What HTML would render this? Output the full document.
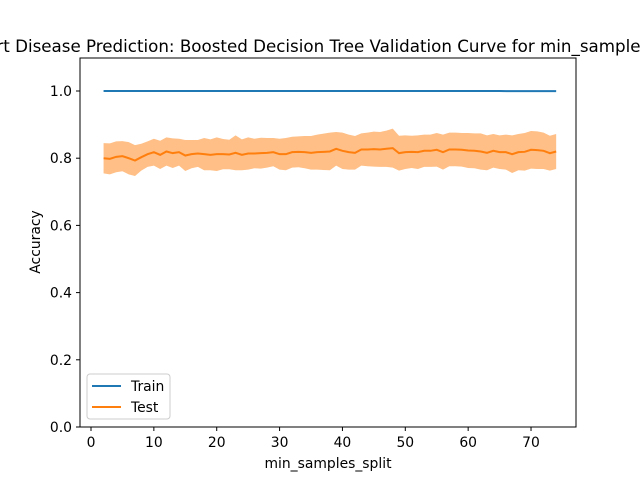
<!DOCTYPE html>
<html><head><meta charset="utf-8"><style>
body{margin:0;background:#fff;}
svg{display:block;font-family:"DejaVu Sans","Liberation Sans",sans-serif;}
</style></head><body>
<svg id="chart" width="640" height="480">
<text x="328" y="52" font-size="16.7" text-anchor="middle">Heart Disease Prediction: Boosted Decision Tree Validation Curve for min_samples_split</text>
<g id="plot"></g>
<rect x="80" y="58" width="496" height="369" fill="none" stroke="#000" stroke-width="1"/>
<text x="328" y="468" font-size="13.9" text-anchor="middle">min_samples_split</text>
<text x="0" y="0" font-size="13.9" text-anchor="middle" transform="translate(40,242) rotate(-90)">Accuracy</text>
<g>
<rect x="87" y="374" width="83" height="45" rx="3" fill="#fff" fill-opacity="0.8" stroke="#ccc"/>
<line x1="92" y1="386" x2="121" y2="386" stroke="#1f77b4" stroke-width="2"/>
<text x="131" y="391" font-size="13.9">Train</text>
<line x1="92" y1="407" x2="121" y2="407" stroke="#ff7f0e" stroke-width="2"/>
<text x="131" y="412" font-size="13.9">Test</text>
</g>
</svg>
<script>
const xVals=[];for(let i=2;i<=74;i++)xVals.push(i);
const testMean=[0.800,0.798,0.804,0.806,0.800,0.793,0.803,0.812,0.818,0.810,0.820,0.815,0.818,0.808,0.812,0.814,0.812,0.810,0.812,0.812,0.811,0.816,0.810,0.814,0.814,0.815,0.816,0.818,0.812,0.812,0.818,0.819,0.818,0.816,0.818,0.819,0.820,0.828,0.822,0.818,0.816,0.826,0.826,0.827,0.826,0.828,0.830,0.815,0.818,0.819,0.818,0.822,0.822,0.825,0.818,0.826,0.826,0.825,0.823,0.822,0.820,0.816,0.822,0.818,0.818,0.812,0.818,0.819,0.825,0.824,0.822,0.815,0.820];
const testStd=[0.045,0.046,0.046,0.045,0.048,0.046,0.040,0.038,0.040,0.042,0.042,0.044,0.040,0.046,0.042,0.040,0.048,0.046,0.050,0.045,0.044,0.052,0.046,0.048,0.044,0.046,0.044,0.042,0.046,0.048,0.046,0.046,0.048,0.050,0.052,0.054,0.056,0.050,0.054,0.052,0.050,0.048,0.050,0.052,0.052,0.054,0.058,0.052,0.050,0.048,0.050,0.048,0.048,0.050,0.052,0.050,0.050,0.050,0.052,0.052,0.054,0.052,0.050,0.050,0.052,0.056,0.054,0.056,0.056,0.056,0.054,0.052,0.052];
const trainMean=xVals.map(x=>x<66?1.0:0.9995);
const xTicks=[0,10,20,30,40,50,60,70];
const yTicks=[0.0,0.2,0.4,0.6,0.8,1.0];
const X=v=>91+(v)*6.286, Y=v=>427-v*336;
const NS='http://www.w3.org/2000/svg';
const svg=document.getElementById('chart'), g=document.getElementById('plot');
function mk(t,a,p){const e=document.createElementNS(NS,t);for(const k in a)e.setAttribute(k,a[k]);(p||g).appendChild(e);return e;}
let up=xVals.map((x,i)=>X(x)+','+Y(testMean[i]+testStd[i]));
let lo=xVals.map((x,i)=>X(x)+','+Y(testMean[i]-testStd[i])).reverse();
const band=mk('polygon',{points:up.concat(lo).join(' '),fill:'#ff7f0e','fill-opacity':0.5});


const tr=mk('polyline',{points:xVals.map((x,i)=>X(x)+','+Y(trainMean[i])).join(' '),fill:'none',stroke:'#1f77b4','stroke-width':2});


const te=mk('polyline',{points:xVals.map((x,i)=>X(x)+','+Y(testMean[i])).join(' '),fill:'none',stroke:'#ff7f0e','stroke-width':2});


xTicks.forEach(t=>{
 const l=mk('line',{x1:X(t),x2:X(t),y1:427,y2:431,stroke:'#000'},svg);
 
 
 const tx=mk('text',{x:X(t),y:447,'font-size':13.9,'text-anchor':'middle'},svg);tx.textContent=t;
 
 
});
yTicks.forEach(t=>{
 const l=mk('line',{x1:76,x2:80,y1:Y(t),y2:Y(t),stroke:'#000'},svg);
 
 
 const tx=mk('text',{x:72,y:Y(t)+5,'font-size':13.9,'text-anchor':'end'},svg);tx.textContent=t.toFixed(1);
 
 
});
</script>
</body></html>
